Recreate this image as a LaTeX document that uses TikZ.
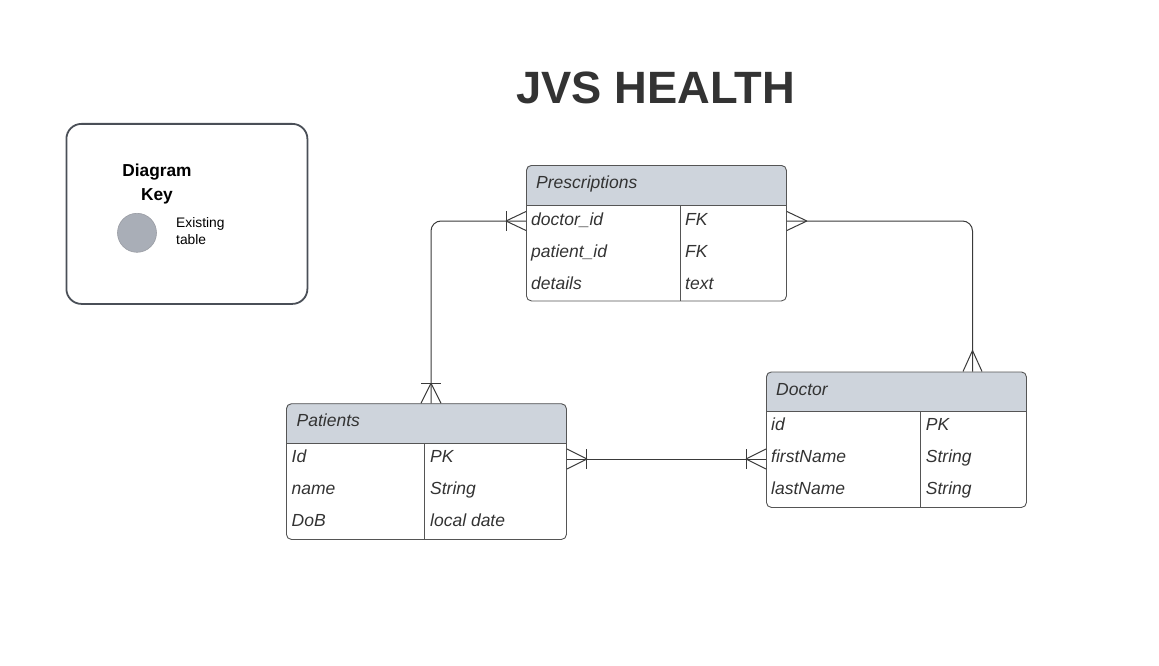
\documentclass[tikz,border=0pt]{standalone}
\usepackage{fontspec}
\setmainfont{Liberation Sans}
\definecolor{ink}{HTML}{333333}
\definecolor{hdr}{HTML}{CED4DC}
\definecolor{tborder}{HTML}{555555}
\definecolor{keyborder}{HTML}{4A4F57}
\definecolor{keydot}{HTML}{A9AEB7}
\definecolor{keydotb}{HTML}{999CA3}
\definecolor{wire}{HTML}{3A3A3A}
\begin{document}
\begin{tikzpicture}[x=1pt,y=-1pt,
  tablebox/.style={draw=tborder,line width=0.9pt,rounded corners=5pt},
  rowtxt/.style={anchor=base west,inner sep=0pt,text=ink,font=\fontsize{17.5}{20}\selectfont\itshape},
  wireline/.style={draw=wire,line width=1pt},
  keytxt/.style={inner sep=0pt,text=black}]
\useasboundingbox (0,0) rectangle (1159,666);

% Title
\node[anchor=base,inner sep=0pt,text=ink,font=\fontsize{45.3}{50}\selectfont\bfseries] (title) at (655.5,103.3) {JVS HEALTH};

% Key
\node[draw=keyborder,line width=1.8pt,rounded corners=15pt,minimum width=241pt,minimum height=180pt,anchor=north west,inner sep=0pt] (keybox) at (65.5,123) {};
\node[keytxt,anchor=base,font=\fontsize{17.3}{20}\selectfont\bfseries] (keyt1) at (157,176.7) {Diagram};
\node[keytxt,anchor=base,font=\fontsize{17.3}{20}\selectfont\bfseries] (keyt2) at (157,200) {Key};
\node[circle,fill=keydot,draw=keydotb,line width=0.6pt,minimum size=39pt,inner sep=0pt] (keydot) at (137,232.8) {};
\node[keytxt,anchor=base west,font=\fontsize{13.8}{16}\selectfont] (keyt3) at (176,227.3) {Existing};
\node[keytxt,anchor=base west,font=\fontsize{13.8}{16}\selectfont] (keyt4) at (176,244.3) {table};

% ---------- Prescriptions ----------
\begin{scope}
\clip[rounded corners=5pt] (526,165) rectangle (786,300.5);
\fill[hdr] (526,165) rectangle (786,205.5);
\end{scope}
\node[tablebox,minimum width=260pt,minimum height=135.5pt,anchor=north west,inner sep=0pt] (presc) at (526,165) {};
\draw[tborder,line width=0.9pt] (526,205.5) -- (786,205.5);
\draw[tborder,line width=0.9pt] (680,205.5) -- (680,300.5);
\node[rowtxt] (prh) at (536,188) {Prescriptions};
\node[rowtxt] (pr1a) at (531,225) {doctor\_id};
\node[rowtxt] (pr1b) at (685,225) {FK};
\node[rowtxt] (pr2a) at (531,257) {patient\_id};
\node[rowtxt] (pr2b) at (685,257) {FK};
\node[rowtxt] (pr3a) at (531,289) {details};
\node[rowtxt] (pr3b) at (685,289) {text};

% ---------- Patients ----------
\begin{scope}
\clip[rounded corners=5pt] (286,403.3) rectangle (566,539);
\fill[hdr] (286,403.3) rectangle (566,443.3);
\end{scope}
\node[tablebox,minimum width=280pt,minimum height=135.7pt,anchor=north west,inner sep=0pt] (pat) at (286,403.3) {};
\draw[tborder,line width=0.9pt] (286,443.3) -- (566,443.3);
\draw[tborder,line width=0.9pt] (424.5,443.3) -- (424.5,539);
\node[rowtxt] (pah) at (296.5,426.7) {Patients};
\node[rowtxt] (pa1a) at (291.5,462.7) {Id};
\node[rowtxt] (pa1b) at (430,462.7) {PK};
\node[rowtxt] (pa2a) at (291.5,494.5) {name};
\node[rowtxt] (pa2b) at (430,494.5) {String};
\node[rowtxt] (pa3a) at (291.5,526.5) {DoB};
\node[rowtxt] (pa3b) at (430,526.5) {local date};

% ---------- Doctor ----------
\begin{scope}
\clip[rounded corners=5pt] (766,371.5) rectangle (1026,507);
\fill[hdr] (766,371.5) rectangle (1026,411.3);
\end{scope}
\node[tablebox,minimum width=260pt,minimum height=135.5pt,anchor=north west,inner sep=0pt] (doc) at (766,371.5) {};
\draw[tborder,line width=0.9pt] (766,411.3) -- (1026,411.3);
\draw[tborder,line width=0.9pt] (920.5,411.3) -- (920.5,507);
\node[rowtxt] (doh) at (776,395) {Doctor};
\node[rowtxt] (do1a) at (771,430.7) {id};
\node[rowtxt] (do1b) at (925.7,430.7) {PK};
\node[rowtxt] (do2a) at (771,462.7) {firstName};
\node[rowtxt] (do2b) at (925.7,462.7) {String};
\node[rowtxt] (do3a) at (771,494.5) {lastName};
\node[rowtxt] (do3b) at (925.7,494.5) {String};

% ---------- Connector end points ----------
\coordinate (prL) at (presc.west |- 0,221);
\coordinate (prR) at (presc.east |- 0,221);
\coordinate (paT) at (pat.north -| 431,0);
\coordinate (paR) at (pat.east |- 0,459);
\coordinate (doT) at (doc.north -| 972.5,0);
\coordinate (doL) at (doc.west |- 0,459);

% Connector 1: Prescriptions (doctor_id) -- Patients
\draw[wireline,rounded corners=10pt] (prL) -| (paT);
\draw[wireline] (prL) ++(-20,0) -- ++(20,-9.5) (prL) ++(-20,0) -- ++(20,9.5);
\draw[wireline] (prL) ++(-20,-10) -- ++(0,20);
\draw[wireline] (paT) ++(0,-20) -- ++(-10,20) (paT) ++(0,-20) -- ++(10,20);
\draw[wireline] (paT) ++(-10,-20) -- ++(20,0);

% Connector 2: Prescriptions -- Doctor
\draw[wireline,rounded corners=10pt] (prR) -| (doT);
\draw[wireline] (prR) ++(20,0) -- ++(-20,-9.5) (prR) ++(20,0) -- ++(-20,9.5);
\draw[wireline] (doT) ++(0,-21) -- ++(-9.5,21) (doT) ++(0,-21) -- ++(9.5,21);

% Connector 3: Patients -- Doctor
\draw[wireline] (paR) -- (doL);
\draw[wireline] (paR) ++(20,0) -- ++(-20,-10) (paR) ++(20,0) -- ++(-20,10);
\draw[wireline] (paR) ++(20,-10) -- ++(0,20);
\draw[wireline] (doL) ++(-20,0) -- ++(20,-10) (doL) ++(-20,0) -- ++(20,10);
\draw[wireline] (doL) ++(-20,-10) -- ++(0,20);
\end{tikzpicture}
\end{document}
